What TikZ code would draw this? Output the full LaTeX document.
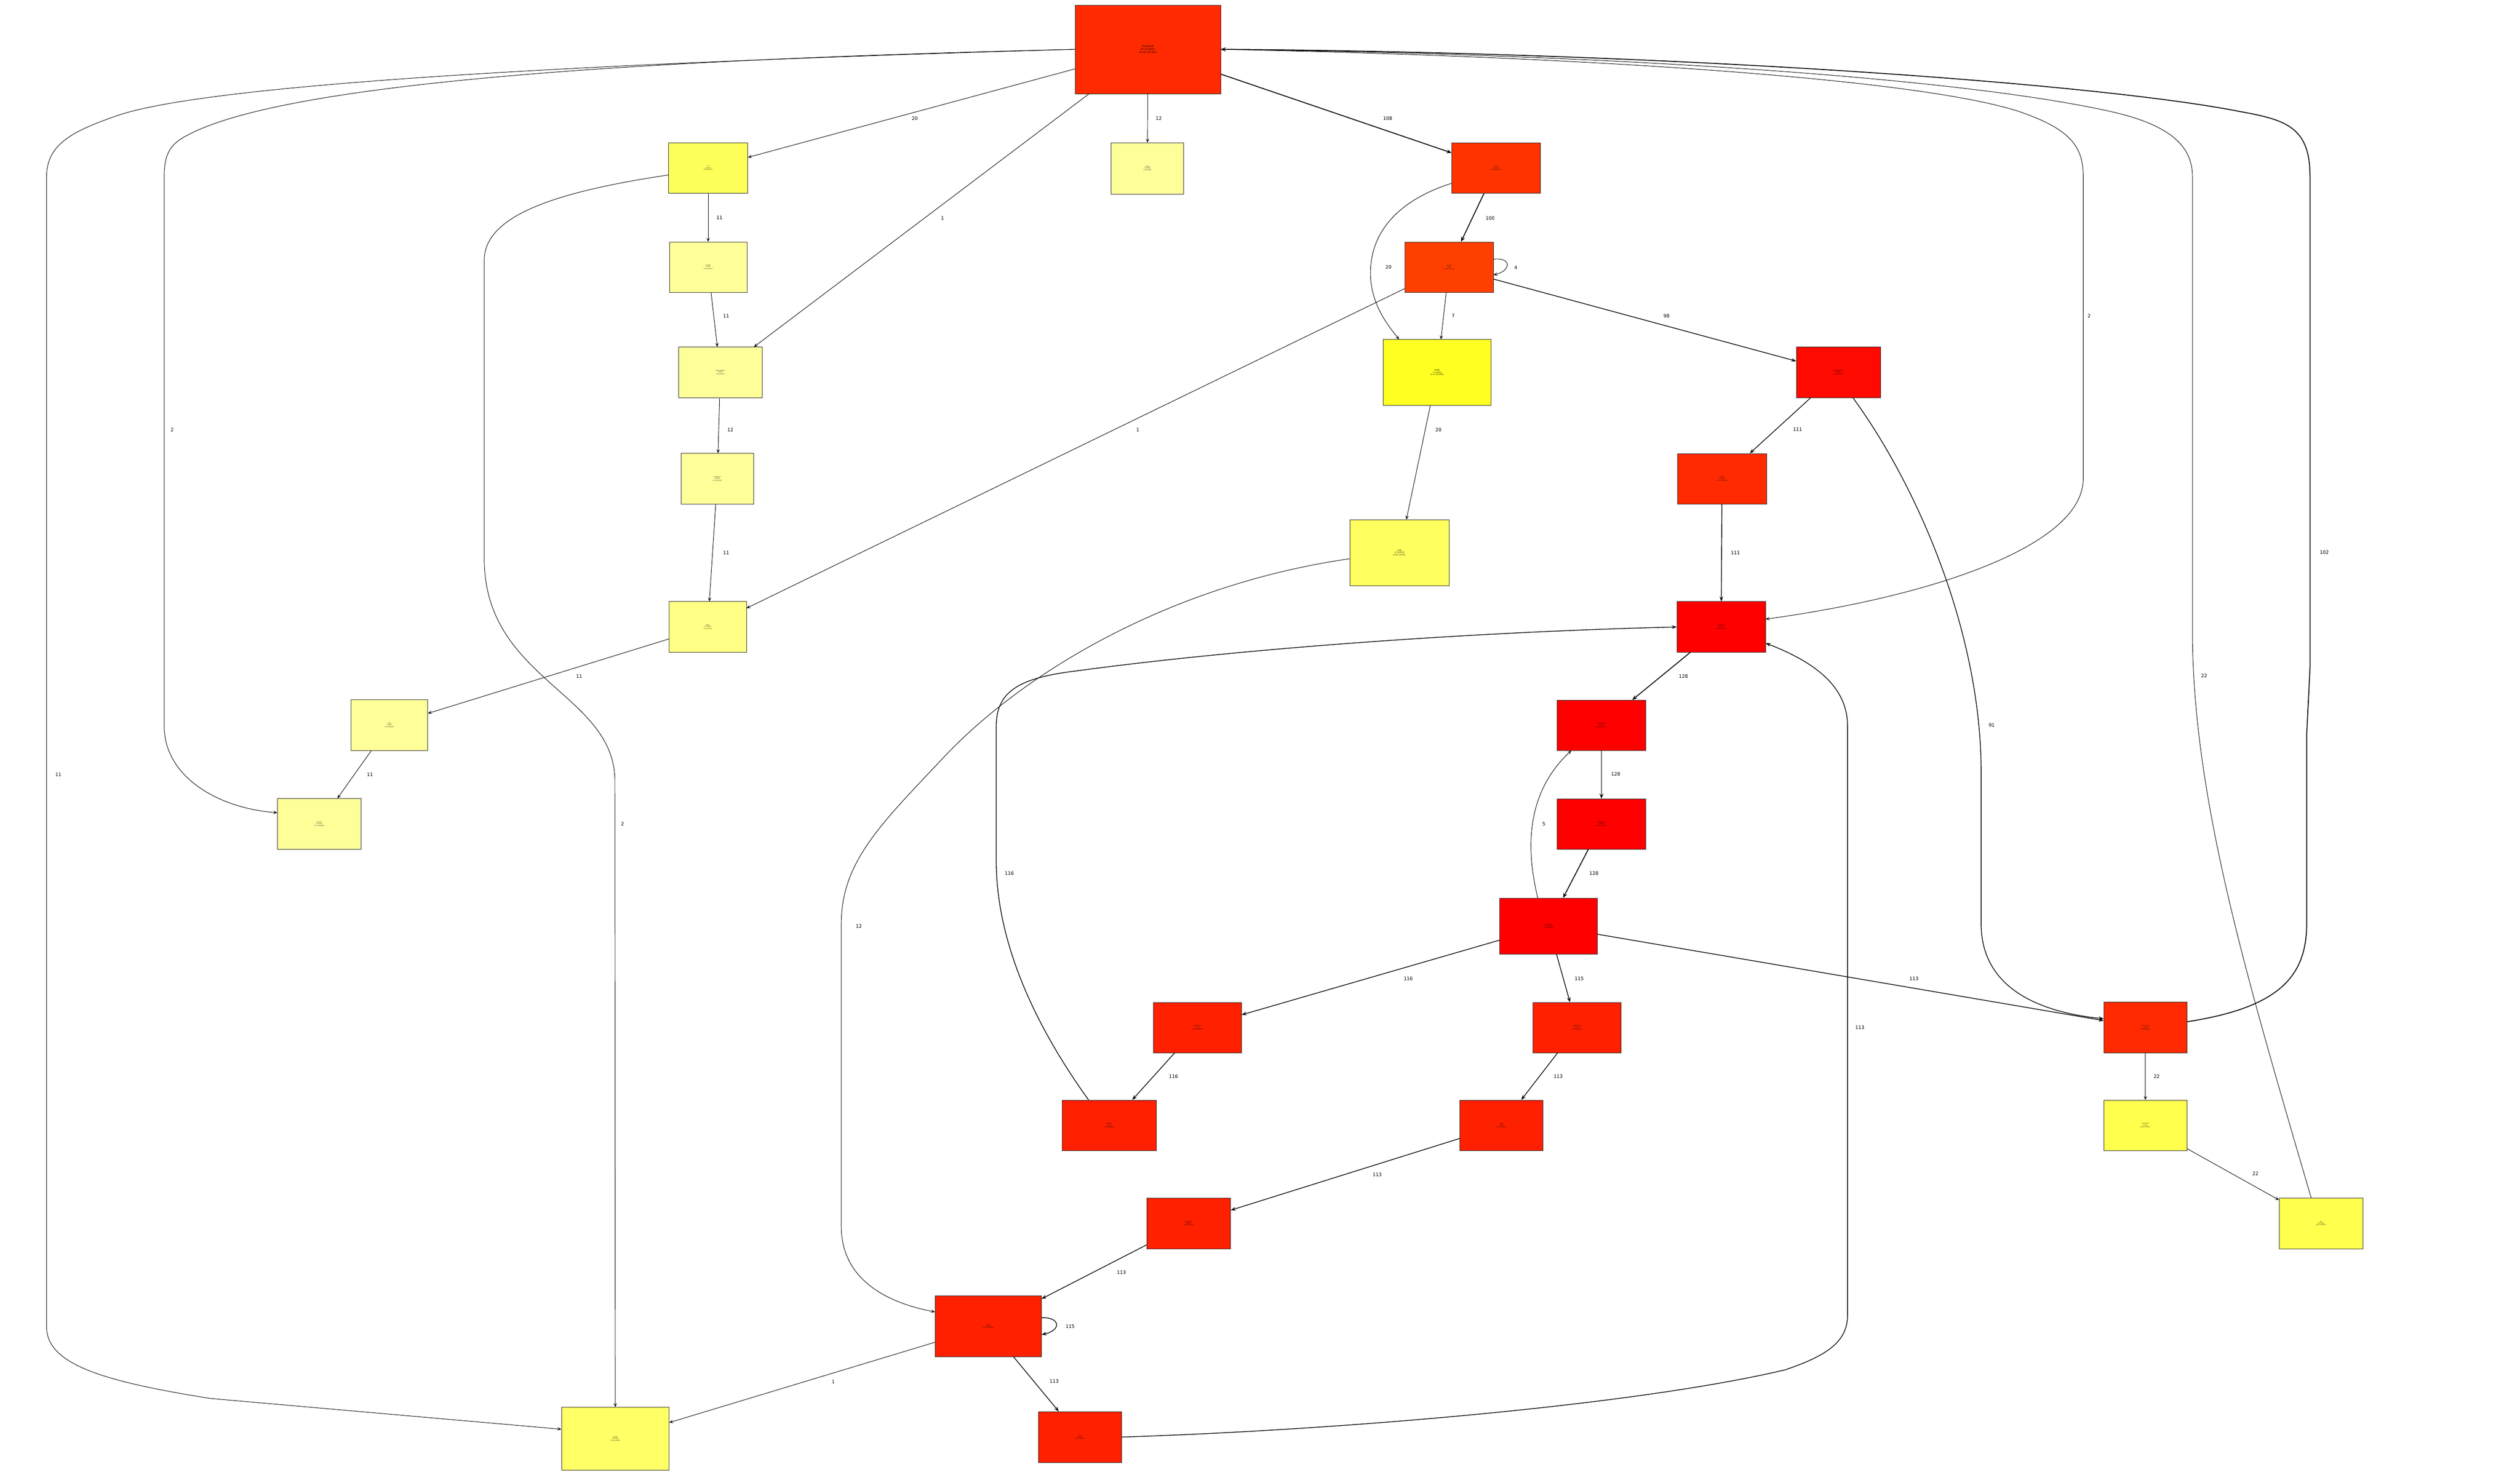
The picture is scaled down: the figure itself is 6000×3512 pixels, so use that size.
\documentclass[tikz,border=0pt]{standalone}
\usepackage{fontspec}
\setmainfont{DejaVu Sans}
\usetikzlibrary{arrows.meta}
\definecolor{cA}{HTML}{FF2A00}
\definecolor{cB}{HTML}{FF3300}
\definecolor{cC}{HTML}{FF3F00}
\definecolor{cD}{HTML}{FF0A00}
\definecolor{cR}{HTML}{FF0000}
\definecolor{cE}{HTML}{FF2000}
\definecolor{yA}{HTML}{FFFF5A}
\definecolor{yL}{HTML}{FFFF9A}
\definecolor{yM}{HTML}{FFFF85}
\definecolor{yS}{HTML}{FFFF22}
\definecolor{yF}{HTML}{FFFF5F}
\definecolor{yW}{HTML}{FFFF4D}
\definecolor{yP}{HTML}{FFFF66}
\begin{document}
\begin{tikzpicture}[x=0.25mm,y=-0.25mm,
  box/.style={draw=black!80, line width=0.5pt, inner sep=0pt, align=center, font=\fontsize{2.2}{2.8}\selectfont},
  lbl/.style={font=\fontsize{8}{9}\selectfont, inner sep=0pt},
  ethin/.style={line width=0.8pt, -{Stealth[length=2.4mm,width=2mm,inset=1.1mm,open]}},
  emid/.style={line width=1.2pt, -{Stealth[length=3mm,width=2.2mm,inset=1.2mm]}},
  ethick/.style={line width=1.5pt, -{Stealth[length=3mm,width=2.4mm,inset=1.2mm]}}]
\useasboundingbox (0,0) rectangle (6000,3512);

% nodes
\node[box, fill=cA, minimum width=86.75mm, minimum height=52.75mm, font=\fontsize{4}{5}\selectfont] (n0) at (2733,117.5) {stzdefault\\14 (10.85\%)\\of 113 (87.6\%)};
\node[box, fill=yA, minimum width=47.25mm, minimum height=30.25mm] (n1) at (1686,400) {cat\\4 (3.1\%)\\of 20 (15.5\%)};
\node[box, fill=yL, minimum width=43.25mm, minimum height=30.5mm] (n2) at (2732,401) {trimws\\1 (0.78\%)\\of 12 (9.3\%)};
\node[box, fill=cB, minimum width=52.75mm, minimum height=30.25mm] (n3) at (3562,400) {unlist\\0 (0\%)\\of 108 (83.72\%)};
\node[box, fill=yL, minimum width=46.25mm, minimum height=30mm] (n4) at (1686,636) {formatC\\0 (0\%)\\of 11 (8.53\%)};
\node[box, fill=cC, minimum width=52.75mm, minimum height=30mm] (n5) at (3450,636) {do.call\\0 (0\%)\\of 108 (83.72\%)};
\node[box, fill=yL, minimum width=50mm, minimum height=30.25mm] (n6) at (1715,887) {format.default\\0 (0\%)\\of 12 (9.3\%)};
\node[box, fill=yS, minimum width=64.25mm, minimum height=39.25mm, font=\fontsize{3}{3.8}\selectfont] (n7) at (3422,887) {lapply\\7 (5.43\%)\\of 27 (20.93\%)};
\node[box, fill=cD, minimum width=50mm, minimum height=30.25mm] (n8) at (4377,887) {standardGeneric\\0 (0\%)\\of 111 (86.05\%)};
\node[box, fill=yL, minimum width=43mm, minimum height=30.25mm] (n9) at (1708,1140) {prettyNum\\0 (0\%)\\of 11 (8.53\%)};
\node[box, fill=cA, minimum width=53mm, minimum height=30mm] (n10) at (4100,1140) {as.vector\\0 (0\%)\\of 111 (86.05\%)};
\node[box, fill=yF, minimum width=59.25mm, minimum height=39.25mm, font=\fontsize{3}{3.8}\selectfont] (n11) at (3332,1316) {FUN\\11 (8.53\%)\\of 20 (15.5\%)};
\node[box, fill=yM, minimum width=46mm, minimum height=30.25mm] (n12) at (1685,1493) {paste\\1 (0.78\%)\\of 12 (9.3\%)};
\node[box, fill=cR, minimum width=52.75mm, minimum height=30.25mm] (n13) at (4098,1493) {myEval.fn\\0 (0\%)\\of 128 (99.22\%)};
\node[box, fill=yL, minimum width=45.75mm, minimum height=30.25mm] (n14) at (927,1727) {nchar\\0 (0\%)\\of 11 (8.53\%)};
\node[box, fill=cR, minimum width=52.75mm, minimum height=30mm] (n15) at (3813,1727) {myEval.fn.int\\0 (0\%)\\of 128 (99.22\%)};
\node[box, fill=yL, minimum width=49.75mm, minimum height=30.25mm] (n16) at (760,1962) {format\\4 (3.1\%)\\of 13 (10.08\%)};
\node[box, fill=cR, minimum width=52.75mm, minimum height=30mm] (n17) at (3813,1962) {myEval.inner\\0 (0\%)\\of 128 (99.22\%)};
\node[box, fill=cR, minimum width=58.25mm, minimum height=33.25mm] (n18) at (3687,2205) {doTryCatch\\1 (0.78\%)\\of 128 (99.22\%)};
\node[box, fill=cE, minimum width=52.5mm, minimum height=30mm] (n19) at (2851,2447) {tryCatchList\\0 (0\%)\\of 116 (89.92\%)};
\node[box, fill=cE, minimum width=52.5mm, minimum height=30mm] (n20) at (3755,2447) {tryCatchOne\\0 (0\%)\\of 115 (89.15\%)};
\node[box, fill=cA, minimum width=49.5mm, minimum height=30.25mm] (n21) at (5108,2447) {sys.function\\0 (0\%)\\of 113 (87.6\%)};
\node[box, fill=cE, minimum width=56.25mm, minimum height=30.25mm] (n22) at (2641,2680) {tryCatch\\0 (0\%)\\of 116 (89.92\%)};
\node[box, fill=cE, minimum width=49.5mm, minimum height=30.25mm] (n23) at (3575,2680) {evalq\\0 (0\%)\\of 113 (87.6\%)};
\node[box, fill=yW, minimum width=49.5mm, minimum height=30.25mm] (n24) at (5108,2680) {writeLines\\0 (0\%)\\of 22 (17.05\%)};
\node[box, fill=cE, minimum width=50mm, minimum height=30.25mm] (n25) at (2830,2913) {withVisible\\0 (0\%)\\of 113 (87.6\%)};
\node[box, fill=yW, minimum width=49.75mm, minimum height=30.25mm] (n26) at (5526,2913) {file\\2 (1.55\%)\\of 22 (17.05\%)};
\node[box, fill=cE, minimum width=63.25mm, minimum height=36.25mm] (n27) at (2353,3158) {eval\\2 (1.55\%)\\of 115 (89.15\%)};
\node[box, fill=yP, minimum width=64mm, minimum height=37.5mm] (n28) at (1465,3426) {sprintf\\1 (0.78\%)\\of 14 (10.85\%)};
\node[box, fill=cE, minimum width=49.5mm, minimum height=30.25mm] (n29) at (2571,3422) {fn\\0 (0\%)\\of 113 (87.6\%)};

% edges
\draw[ethin] (n0) -- (n1);
\draw[ethin] (n0) -- (n2);
\draw[ethick] (n0) -- (n3);
\draw[ethin] (n0) -- (n6);
\draw[ethin] (n0.west) .. controls (1600,140) and (700,190) .. (450,320) .. controls (410,340) and (391,360) .. (391,420) -- (391,1729) .. controls (391,1850) and (520,1925) .. (n16.165);
\draw[ethin] (n0.west) .. controls (1400,150) and (500,200) .. (280,275) .. controls (180,310) and (111,340) .. (111,420) -- (111,3160) .. controls (111,3250) and (250,3290) .. (500,3330) -- (n28.170);
\draw[ethin] (n0.east) .. controls (3800,135) and (4600,190) .. (4820,270) .. controls (4930,310) and (4960,350) .. (4960,420) -- (4960,1140) .. controls (4960,1300) and (4600,1420) .. (n13.10);
\draw[ethin] (n1) -- (n4);
\draw[ethin] (n1.190) .. controls (1300,460) and (1153,520) .. (1153,620) -- (1153,1330) .. controls (1153,1620) and (1464,1650) .. (1464,1860) -- (n28.north);
\draw[ethin] (n4) -- (n6);
\draw[ethin] (n6) -- (n9);
\draw[ethin] (n9) -- (n12);
\draw[ethin] (n12) -- (n14);
\draw[ethin] (n14) -- (n16);
\draw[ethick] (n3) -- (n5);
\draw[ethin] (n3.199) .. controls (3320,480) and (3263,560) .. (3263,650) .. controls (3263,720) and (3300,770) .. (n7.139);
\draw[ethin] (n5.10) .. controls (3600,612) and (3598,645) .. (n5.-10);
\draw[ethin] (n5) -- (n7);
\draw[ethin] (n5) -- (n12);
\draw[emid] (n5) -- (n8);
\draw[emid] (n8) -- (n10);
\draw[emid] (n8.-60) .. controls (4560,1150) and (4717,1500) .. (4717,1840) -- (4717,2200) .. controls (4717,2350) and (4850,2410) .. (n21.168);
\draw[emid] (n10) -- (n13);
\draw[ethin] (n7) -- (n11);
\draw[ethin] (n11.187) .. controls (2800,1390) and (2450,1590) .. (2250,1800) .. controls (2100,1960) and (2003,2050) .. (2003,2200) -- (2003,2920) .. controls (2003,3040) and (2100,3100) .. (n27.165);
\draw[ethick] (n13) -- (n15);
\draw[ethick] (n15) -- (n17);
\draw[ethick] (n17) -- (n18);
\draw[ethin] (n18.111) .. controls (3640,2050) and (3620,1900) .. (n15.220);
\draw[emid] (n18) -- (n19);
\draw[emid] (n18) -- (n20);
\draw[emid] (n18) -- (n21);
\draw[emid] (n19) -- (n22);
\draw[emid] (n22.129) .. controls (2470,2450) and (2372,2250) .. (2372,2050) -- (2372,1730) .. controls (2372,1650) and (2420,1615) .. (2560,1598) .. controls (2950,1545) and (3500,1505) .. (n13.west);
\draw[emid] (n20) -- (n23);
\draw[emid] (n23) -- (n25);
\draw[emid] (n25) -- (n27);
\draw[emid] (n27.9) .. controls (2525,3136) and (2528,3168) .. (n27.-9);
\draw[emid] (n27) -- (n29);
\draw[ethin] (n27) -- (n28);
\draw[emid] (n29.east) .. controls (3200,3405) and (3900,3345) .. (4250,3262) .. controls (4360,3225) and (4399,3190) .. (4399,3130) -- (4399,1730) .. controls (4399,1640) and (4330,1580) .. (n13.-20);
\draw[ethick] (n21.8) .. controls (5420,2400) and (5492,2330) .. (5492,2200) -- (5492,1750) -- (5500,1590) -- (5500,420) .. controls (5500,300) and (5440,285) .. (5330,265) .. controls (5000,200) and (4000,125) .. (n0.east);
\draw[ethin] (n26.111) .. controls (5350,2330) and (5220,1900) .. (5220,1500) -- (5220,420) .. controls (5220,350) and (5170,300) .. (5036,268) .. controls (4700,190) and (3900,130) .. (n0.east);
\draw[ethin] (n21) -- (n24);
\draw[ethin] (n24) -- (n26);

% edge labels
\node[lbl] (l01) at (2178,282) {20};
\node[lbl] (l02) at (2759,282) {12};
\node[lbl] (l03) at (3304,282) {108};
\node[lbl] (l04) at (2244,520) {1};
\node[lbl] (l05) at (410,1024) {2};
\node[lbl] (l06) at (139,1844) {11};
\node[lbl] (l07) at (4974,752) {2};
\node[lbl] (l08) at (1713,519) {11};
\node[lbl] (l09) at (1482,1962) {2};
\node[lbl] (l10) at (1729,752) {11};
\node[lbl] (l11) at (1739,1024) {12};
\node[lbl] (l12) at (1729,1317) {11};
\node[lbl] (l13) at (1379,1611) {11};
\node[lbl] (l14) at (881,1844) {11};
\node[lbl] (l15) at (3548,520) {100};
\node[lbl] (l16) at (3306,636) {20};
\node[lbl] (l17) at (3609,637) {4};
\node[lbl] (l18) at (3460,752) {7};
\node[lbl] (l19) at (2709,1024) {1};
\node[lbl] (l20) at (3968,753) {98};
\node[lbl] (l21) at (4280,1023) {111};
\node[lbl] (l22) at (4742,1727) {91};
\node[lbl] (l23) at (4132,1316) {111};
\node[lbl] (l24) at (3425,1024) {20};
\node[lbl] (l25) at (2045,2205) {12};
\node[lbl] (l26) at (4008,1610) {128};
\node[lbl] (l27) at (3847,1843) {128};
\node[lbl] (l28) at (3795,2080) {128};
\node[lbl] (l29) at (3676,1962) {5};
\node[lbl] (l30) at (3353,2330) {116};
\node[lbl] (l31) at (3760,2330) {115};
\node[lbl] (l32) at (4557,2330) {113};
\node[lbl] (l33) at (2794,2563) {116};
\node[lbl] (l34) at (2403,2080) {116};
\node[lbl] (l35) at (3710,2563) {113};
\node[lbl] (l36) at (3279,2797) {113};
\node[lbl] (l37) at (2670,3030) {113};
\node[lbl] (l38) at (2548,3158) {115};
\node[lbl] (l39) at (2510,3289) {113};
\node[lbl] (l40) at (1984,3290) {1};
\node[lbl] (l41) at (4428,2447) {113};
\node[lbl] (l42) at (5534,1315) {102};
\node[lbl] (l43) at (5248,1609) {22};
\node[lbl] (l44) at (5135,2563) {22};
\node[lbl] (l45) at (5370,2795) {22};
\end{tikzpicture}
\end{document}
